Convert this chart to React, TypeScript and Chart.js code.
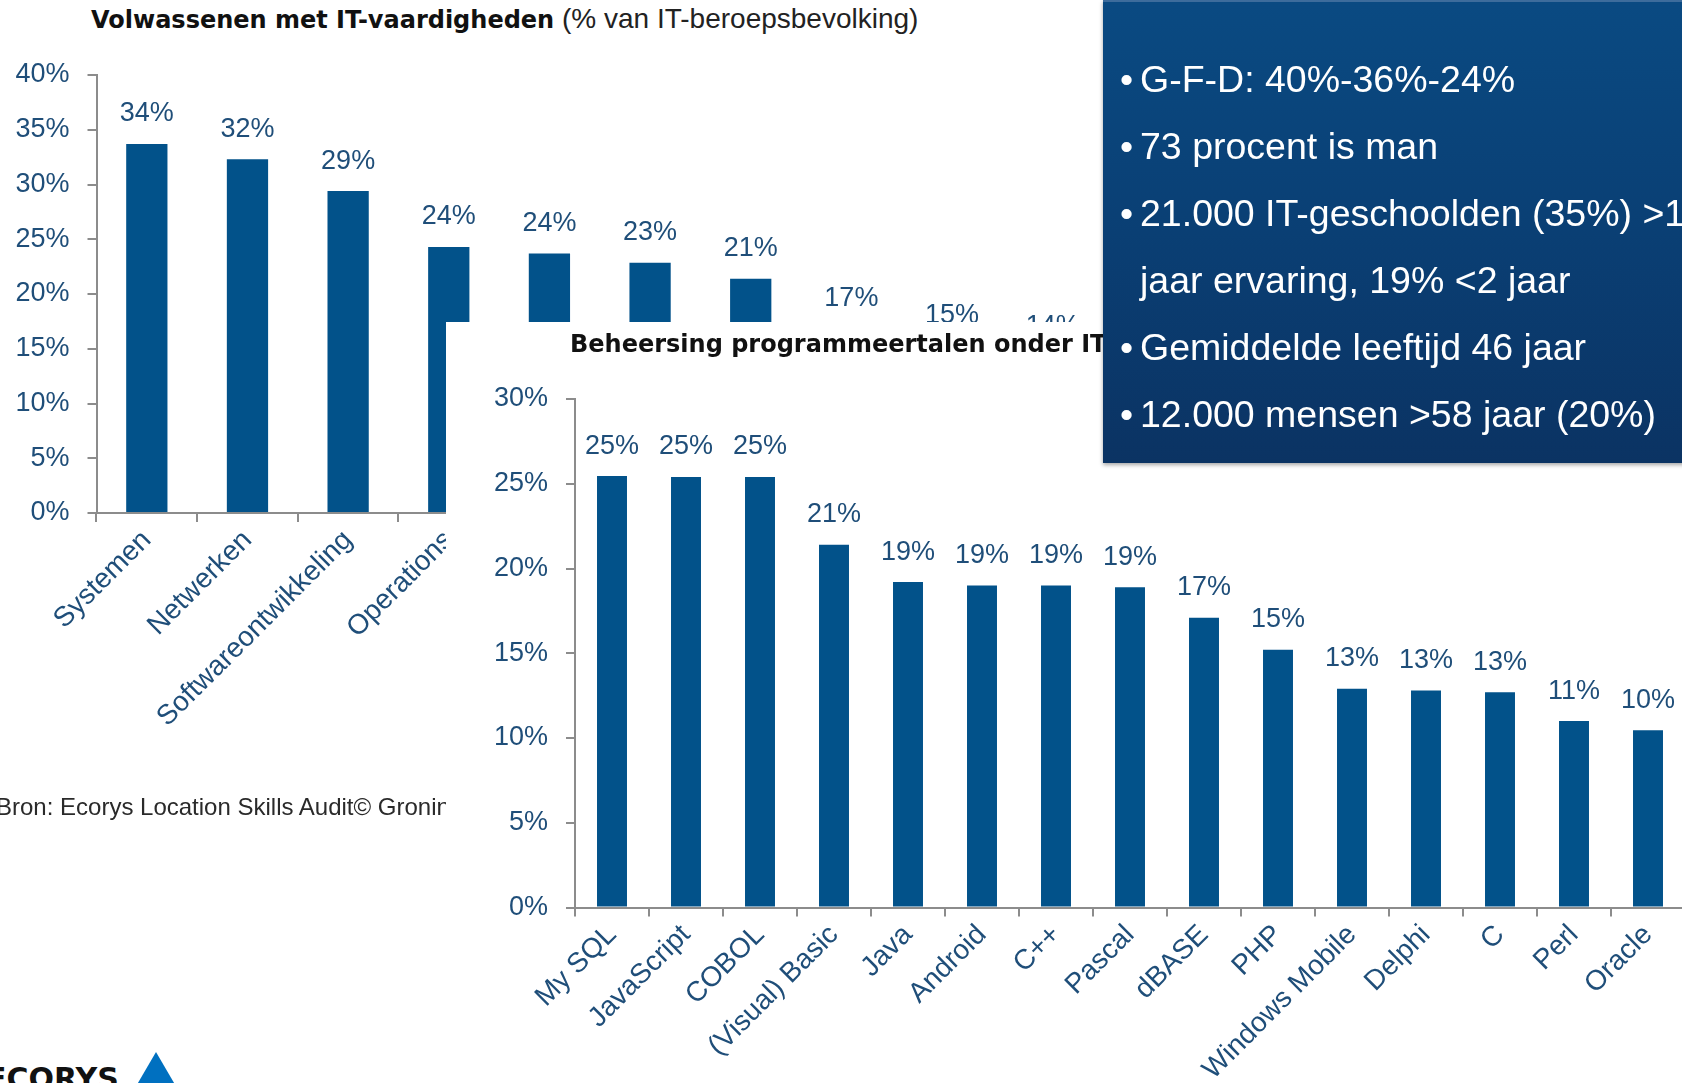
import React, { useEffect, useRef } from 'react';
import { Chart, registerables } from 'chart.js';

Chart.register(...registerables);

// ---------------- Data ----------------
const skillCategories: string[] = ['Systemen', 'Netwerken', 'Softwareontwikkeling', 'Operations', '', '', '', '', '', ''];
const skillValues: number[] = [33.7, 32.3, 29.4, 24.3, 23.7, 22.85, 21.4, 16.8, 15.3, 14.3];
const skillAxisMax = 40;

const languageCategories: string[] = [
  'My SQL', 'JavaScript', 'COBOL', '(Visual) Basic', 'Java', 'Android', 'C++', 'Pascal',
  'dBASE', 'PHP', 'Windows Mobile', 'Delphi', 'C', 'Perl', 'Oracle',
];
const languageValues: number[] = [25.45, 25.4, 25.4, 21.4, 19.2, 19.0, 19.0, 18.9, 17.1, 15.2, 12.9, 12.8, 12.7, 11.0, 10.45];
const languageAxisMax = 30;

const axisStep = 5;

const skillTitleBold = 'Volwassenen met IT-vaardigheden';
const skillTitleNormal = ' (% van IT-beroepsbevolking)';
const languageTitle = 'Beheersing programmeertalen onder IT geschoolden';
const sourceText = 'Bron: Ecorys Location Skills Audit\u00A9 Groningen';

const factLines: { bullet: boolean; text: string }[] = [
  { bullet: true, text: 'G-F-D: 40%-36%-24%' },
  { bullet: true, text: '73 procent is man' },
  { bullet: true, text: '21.000 IT-geschoolden (35%) >10' },
  { bullet: false, text: 'jaar ervaring, 19% <2 jaar' },
  { bullet: true, text: 'Gemiddelde leeftijd 46 jaar' },
  { bullet: true, text: '12.000 mensen >58 jaar (20%)' },
];

// ---------------- Styles ----------------
const FONT = "'Liberation Sans', Arial, Helvetica, sans-serif";
const BOLD_FONT = "'DejaVu Sans', Verdana, sans-serif";
const BAR = '#02528A';
const TEXT_BLUE = '#1F4E79';
const AXIS = '#8C8C8C';

const barValueLabels = {
  id: 'barValueLabels',
  afterDatasetsDraw(chart: any, _args: any, opts: any) {
    const { ctx } = chart;
    const meta = chart.getDatasetMeta(0);
    const data = chart.data.datasets[0].data as number[];
    ctx.save();
    ctx.font = `${opts.size}px ${FONT}`;
    ctx.fillStyle = opts.color;
    ctx.textAlign = 'center';
    ctx.textBaseline = 'middle';
    meta.data.forEach((el: any, i: number) => {
      ctx.fillText(`${Math.round(data[i])}%`, el.x, el.y - opts.offset);
    });
    ctx.restore();
  },
};

type BarChartProps = {
  labels: string[];
  values: number[];
  max: number;
  left: number;
  top: number;
  width: number;
  height: number;
  axisWidth: number;
  plotTop: number;
  plotBottom: number;
  barPct: number;
};

function BarChart(p: BarChartProps) {
  const ref = useRef<HTMLCanvasElement>(null);
  useEffect(() => {
    const chart = new Chart(ref.current as HTMLCanvasElement, {
      type: 'bar',
      data: {
        labels: p.labels,
        datasets: [
          {
            data: p.values,
            backgroundColor: BAR,
            barPercentage: p.barPct,
            categoryPercentage: 1,
          },
        ],
      },
      options: {
        responsive: false,
        animation: false,
        devicePixelRatio: 1,
        layout: { padding: { top: p.plotTop, left: 0, right: 0, bottom: 0 } },
        plugins: {
          legend: { display: false },
          tooltip: { enabled: false },
          title: { display: false },
          barValueLabels: { size: 27, color: TEXT_BLUE, offset: 30 },
        } as any,
        scales: {
          x: {
            grid: { offset: true, drawOnChartArea: false, drawTicks: true, tickLength: 9, color: AXIS, lineWidth: 2 },
            border: { display: true, color: AXIS, width: 2 },
            ticks: {
              autoSkip: false,
              minRotation: 45,
              maxRotation: 45,
              padding: 2,
              color: TEXT_BLUE,
              font: { family: FONT, size: 28 },
            },
            afterFit: (s: any) => {
              s.height = p.height - p.plotBottom;
              s.paddingLeft = 0;
              s.paddingRight = 0;
            },
          },
          y: {
            min: 0,
            max: p.max,
            grid: { drawOnChartArea: false, drawTicks: true, tickLength: 9, color: AXIS, lineWidth: 2 },
            border: { display: true, color: AXIS, width: 2 },
            ticks: {
              stepSize: axisStep,
              padding: 18,
              color: TEXT_BLUE,
              font: { family: FONT, size: 27 },
              callback: (v: any) => `${v}%`,
            },
            afterFit: (s: any) => {
              s.width = p.axisWidth;
              s.paddingTop = 0;
              s.paddingBottom = 0;
            },
          },
        },
      },
      plugins: [barValueLabels],
    });
    return () => chart.destroy();
  }, []);
  return (
    <canvas
      ref={ref}
      width={p.width}
      height={p.height}
      style={{ position: 'absolute', left: p.left, top: p.top, width: p.width, height: p.height, display: 'block' }}
    />
  );
}

export default function App() {
  return (
    <div
      style={{
        position: 'fixed',
        left: 0,
        top: 0,
        width: 1682,
        height: 1083,
        overflow: 'hidden',
        background: '#ffffff',
        fontFamily: FONT,
      }}
    >
      {/* Chart 1 layer */}
      <div style={{ position: 'absolute', left: 0, top: 0, width: 1682, height: 1083, zIndex: 1 }}>
        <div
          style={{
            position: 'absolute',
            left: 91,
            top: 4,
            whiteSpace: 'nowrap',
            lineHeight: '30px',
            color: '#111',
          }}
        >
          <span style={{ fontFamily: BOLD_FONT, fontWeight: 'bold', fontSize: 24 }}>{skillTitleBold}</span>
          <span style={{ fontFamily: FONT, fontSize: 28, color: '#222' }}>{skillTitleNormal}</span>
        </div>
        <BarChart
          labels={skillCategories}
          values={skillValues}
          max={skillAxisMax}
          left={0}
          top={0}
          width={1103}
          height={800}
          axisWidth={96.5}
          plotTop={75}
          plotBottom={513}
          barPct={0.41}
        />
        <div
          style={{
            position: 'absolute',
            left: -4,
            top: 793,
            whiteSpace: 'nowrap',
            fontSize: 24,
            lineHeight: '28px',
            color: '#2a2a2a',
          }}
        >
          {sourceText}
        </div>
        {/* logo */}
        <div
          style={{
            position: 'absolute',
            left: -14,
            top: 1064,
            whiteSpace: 'nowrap',
            fontFamily: BOLD_FONT,
            fontWeight: 'bold',
            fontSize: 30,
            lineHeight: '30px',
            color: '#111',
          }}
        >
          ECORYS
        </div>
        <svg style={{ position: 'absolute', left: 120, top: 1040 }} width={80} height={60}>
          <polygon points="36,12 8,60 64,60" fill="#0070C0" />
        </svg>
      </div>

      {/* Chart 2 panel */}
      <div
        style={{
          position: 'absolute',
          left: 446,
          top: 322,
          width: 1236,
          height: 761,
          background: '#ffffff',
          zIndex: 2,
          overflow: 'visible',
        }}
      >
        <BarChart
          labels={languageCategories}
          values={languageValues}
          max={languageAxisMax}
          left={0}
          top={0}
          width={1239}
          height={800}
          axisWidth={129}
          plotTop={77}
          plotBottom={585.5}
          barPct={0.405}
        />
        <div
          style={{
            position: 'absolute',
            left: 124,
            top: 7,
            whiteSpace: 'nowrap',
            fontFamily: BOLD_FONT,
            fontWeight: 'bold',
            fontSize: 24,
            lineHeight: '30px',
            color: '#111',
          }}
        >
          {languageTitle}
        </div>
      </div>

      {/* Facts box */}
      <div
        style={{
          position: 'absolute',
          left: 1103,
          top: 0,
          width: 590,
          height: 463,
          boxSizing: 'border-box',
          background: 'linear-gradient(180deg, #0a4a82 0%, #0a3f74 50%, #0b3363 100%)',
          borderTop: '2px solid #3d6c9c',
          boxShadow: '0 2px 4px rgba(0,0,0,0.35)',
          overflow: 'hidden',
          zIndex: 3,
          color: '#ffffff',
        }}
      >
        {factLines.map((line, i) => {
          const baseline = 90 + i * 67;
          const top = baseline - 31.5;
          return (
            <React.Fragment key={i}>
              {line.bullet && (
                <div
                  style={{
                    position: 'absolute',
                    left: 17,
                    top,
                    fontSize: 37.5,
                    lineHeight: '37.5px',
                    whiteSpace: 'nowrap',
                  }}
                >
                  {'\u2022'}
                </div>
              )}
              <div
                style={{
                  position: 'absolute',
                  left: 37,
                  top,
                  fontSize: 37.5,
                  lineHeight: '37.5px',
                  whiteSpace: 'nowrap',
                }}
              >
                {line.text}
              </div>
            </React.Fragment>
          );
        })}
      </div>
    </div>
  );
}
